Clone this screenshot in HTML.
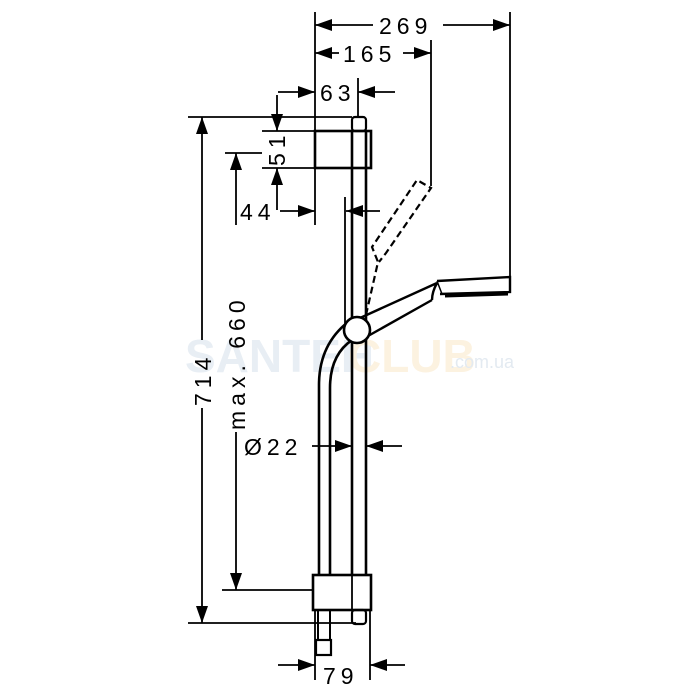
<!DOCTYPE html>
<html><head><style>body{margin:0;background:#fff}svg{display:block}text{font-family:"Liberation Sans",sans-serif;font-size:23px;fill:#000;letter-spacing:5px}</style></head>
<body>
<svg width="700" height="700" viewBox="0 0 700 700" xmlns="http://www.w3.org/2000/svg">
<defs>
<marker id="a" viewBox="0 0 17 12" refX="17" refY="6" markerWidth="17" markerHeight="12" markerUnits="userSpaceOnUse" orient="auto"><path d="M0,0L17,6L0,12Z" fill="#000"/></marker>
</defs>
<text x="185" y="372" style="font-size:46px;fill:#e8eef4;letter-spacing:0" font-weight="bold">SANTEH</text>
<text x="348" y="372" style="font-size:46px;fill:#fcf2e0;letter-spacing:0" font-weight="bold">CLUB</text>
<text x="450" y="368" style="font-size:18px;fill:#e3eaf1;letter-spacing:0">.com.ua</text>
<g stroke="#000" stroke-width="1.8" fill="none">
<line x1="315" y1="12" x2="315" y2="225"/>
<line x1="510" y1="12" x2="510" y2="280"/>
<line x1="431" y1="40" x2="431" y2="186"/>
<line x1="358" y1="78" x2="358" y2="118"/>
<line x1="188" y1="117" x2="352" y2="117"/>
<line x1="262" y1="131" x2="315" y2="131"/>
<line x1="262" y1="168" x2="315" y2="168"/>
<line x1="225" y1="153" x2="262" y2="153"/>
<line x1="222" y1="590" x2="313" y2="590"/>
<line x1="188" y1="623" x2="356" y2="623"/>
<line x1="315" y1="610" x2="315" y2="680"/>
<line x1="370" y1="610" x2="370" y2="680"/>
<line x1="345" y1="197" x2="345" y2="330"/>
<line x1="373" y1="25" x2="315" y2="25" marker-end="url(#a)"/>
<line x1="443" y1="25" x2="510" y2="25" marker-end="url(#a)"/>
<line x1="339" y1="53" x2="315" y2="53" marker-end="url(#a)"/>
<line x1="403" y1="53" x2="431" y2="53" marker-end="url(#a)"/>
<line x1="278" y1="92" x2="315" y2="92" marker-end="url(#a)"/>
<line x1="395" y1="92" x2="358" y2="92" marker-end="url(#a)"/>
<line x1="277" y1="95" x2="277" y2="131" marker-end="url(#a)"/>
<line x1="277" y1="210" x2="277" y2="168" marker-end="url(#a)"/>
<line x1="280" y1="211" x2="315" y2="211" marker-end="url(#a)"/>
<line x1="380" y1="211" x2="346" y2="211" marker-end="url(#a)"/>
<line x1="202" y1="340" x2="202" y2="117" marker-end="url(#a)"/>
<line x1="202" y1="408" x2="202" y2="623" marker-end="url(#a)"/>
<line x1="236" y1="225" x2="236" y2="153" marker-end="url(#a)"/>
<line x1="236" y1="432" x2="236" y2="590" marker-end="url(#a)"/>
<line x1="312" y1="446" x2="352" y2="446" marker-end="url(#a)"/>
<line x1="402" y1="446" x2="366" y2="446" marker-end="url(#a)"/>
<line x1="278" y1="665" x2="315" y2="665" marker-end="url(#a)"/>
<line x1="405" y1="665" x2="370" y2="665" marker-end="url(#a)"/>
<rect x="352" y="117" width="14" height="14" rx="3" stroke-width="2.2"/>
<rect x="315" y="131" width="56" height="37" stroke-width="2.6"/>
<line x1="352" y1="131" x2="352" y2="575" stroke-width="2.6"/>
<line x1="366" y1="131" x2="366" y2="575" stroke-width="2.6"/>
<rect x="313" y="575" width="58" height="35" stroke-width="2.6"/>
<line x1="352" y1="575" x2="352" y2="610"/>
<rect x="352" y="610" width="14" height="14" rx="3" stroke-width="2.2"/>
<path d="M319,575 L319,385 Q319,345 348,322" stroke-width="2.6"/>
<path d="M330,575 L330,388 Q330,355 352,340" stroke-width="2.6"/>
<line x1="318" y1="610" x2="318" y2="640" stroke-width="2"/>
<line x1="330" y1="610" x2="330" y2="640" stroke-width="2"/>
<rect x="316" y="640" width="15" height="15" stroke-width="2.2"/>
<path d="M360,318 L437,283 M368,336 L432,300 M437,283 Q432,292 432,300" stroke-width="2.4"/>
<path d="M437,281 L510,277 L510,292 L440,294" stroke-width="2.4"/>
<path d="M437,281 L442,294" stroke-width="1.5"/>
<path d="M445,296 L508,294" stroke-width="3"/>
<circle cx="357" cy="330" r="13" fill="#fff" stroke-width="2.6"/>
<path d="M366,315 L378,262 L372,247 L417,180 L431,188 L386,253 L379,262" stroke-dasharray="7,4" stroke-width="2.2"/>
</g>
<text x="379" y="34">269</text>
<text x="343" y="62">165</text>
<text x="320" y="101">63</text>
<text transform="translate(285,166) rotate(-90)">51</text>
<text x="240" y="220">44</text>
<text transform="translate(211,406) rotate(-90)">714</text>
<text transform="translate(245,430) rotate(-90)">max. 660</text>
<text x="244" y="455">Ø22</text>
<text x="323" y="684">79</text>
</svg>
</body></html>
